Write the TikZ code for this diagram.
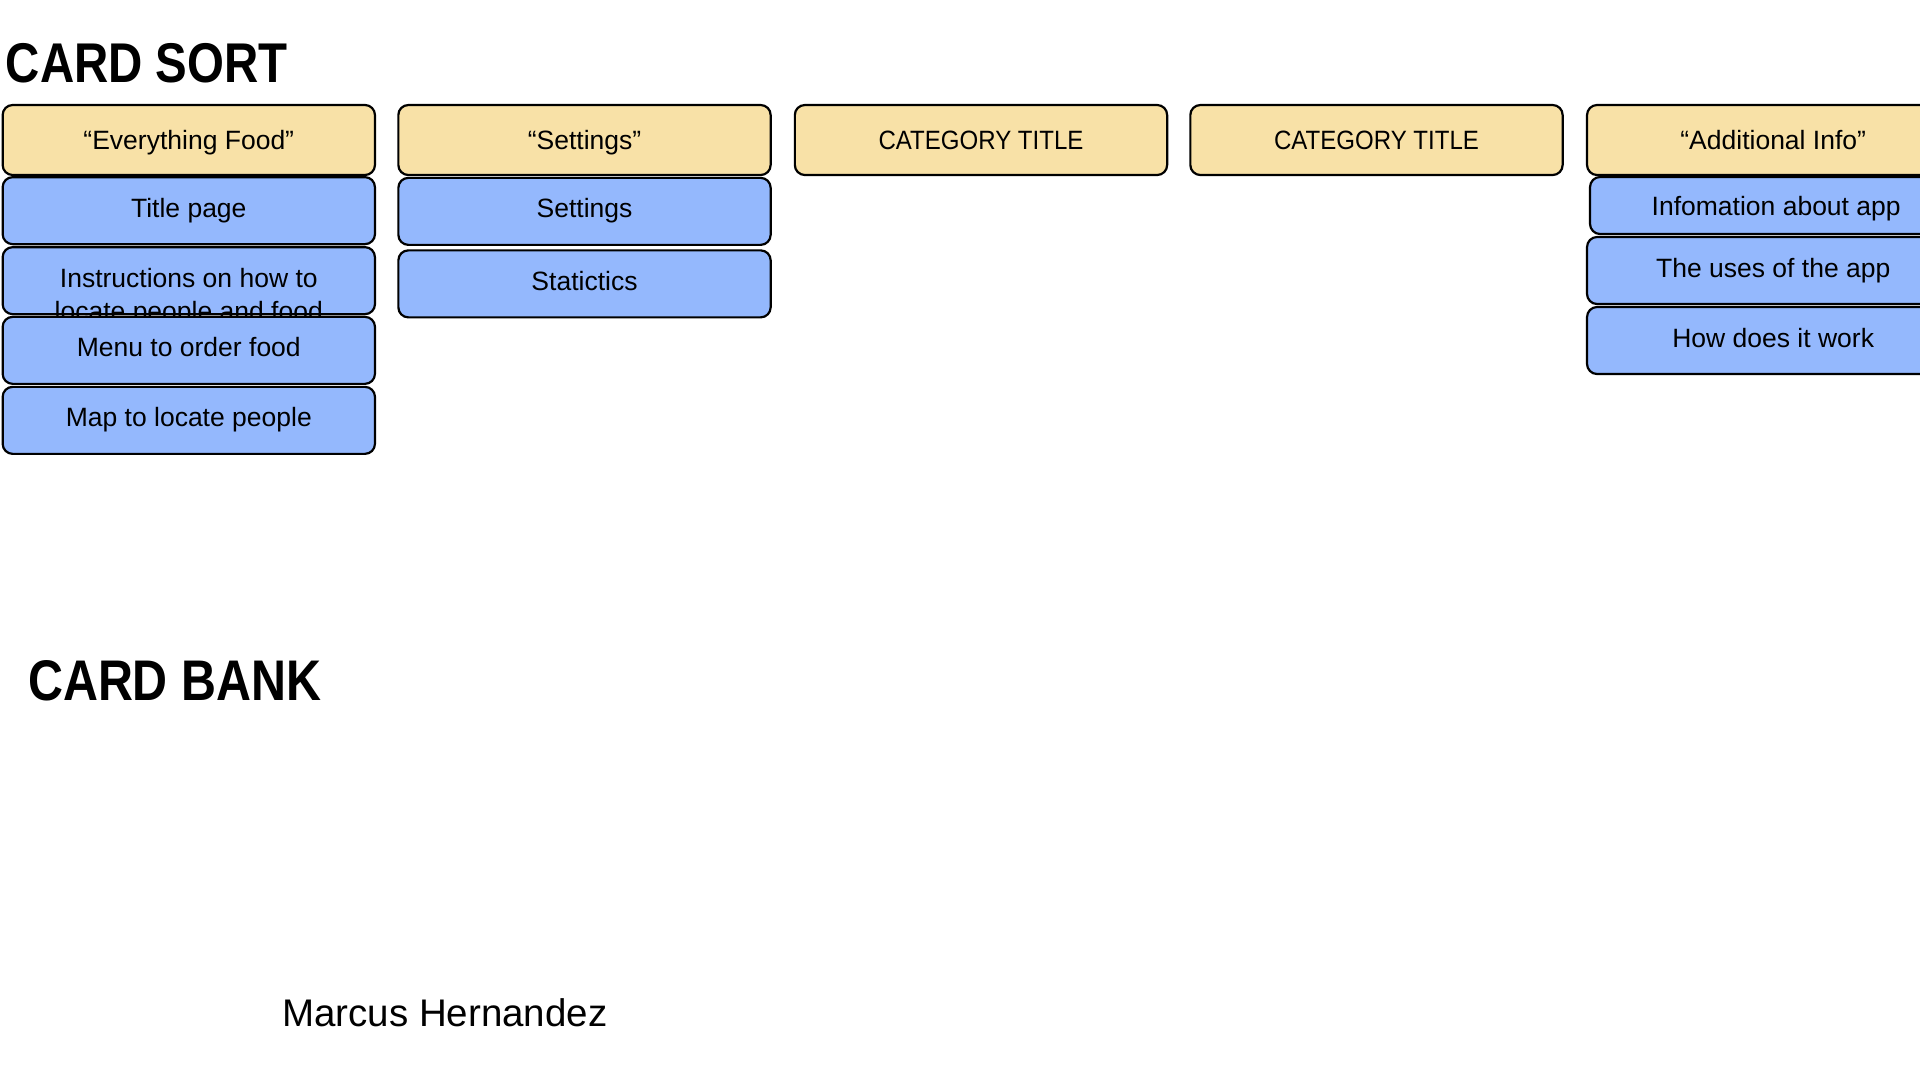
\documentclass[tikz,border=0pt]{standalone}
\usepackage{fontspec}
\usepackage{graphicx}
\setmainfont{Liberation Sans}
\definecolor{hdrfill}{HTML}{F8E1A7}
\definecolor{itemfill}{HTML}{94B8FD}
\newcommand\cardfont{\fontsize{26.5pt}{32.7pt}\selectfont}
\tikzset{
  card/.style={draw=black, line width=2.2pt, rounded corners=10pt,
    minimum width=372.3pt, inner sep=0pt, font=\cardfont, text=black},
  hdr/.style={card, fill=hdrfill, minimum height=70pt, text height=22pt, text depth=3.4pt},
  item/.style={card, fill=itemfill, minimum height=67pt, text height=19.5pt, text depth=6.3pt},
  itemshort/.style={card, fill=itemfill, minimum height=57pt, text height=22pt, text depth=3pt},
  bigtitle/.style={anchor=base west, inner sep=0pt, font=\bfseries},
  plaintext/.style={anchor=base west, inner sep=0pt}
}
\begin{document}
\begin{tikzpicture}[x=1pt,y=-1pt]
\clip (0,0) rectangle (1920,1080);
\fill[white] (0,0) rectangle (1920,1080);

% titles
\node[bigtitle, font=\bfseries\fontsize{56pt}{60pt}\selectfont] (sorttitle) at (5.6,82) {\scalebox{0.847}[1]{CARD SORT}};
\node[bigtitle, font=\bfseries\fontsize{57.3pt}{60pt}\selectfont] (banktitle) at (27.9,700) {\scalebox{0.845}[1]{CARD BANK}};
\node[plaintext, font=\fontsize{38.5pt}{42pt}\selectfont] (author) at (282,1026.7) {Marcus Hernandez};

% column 1
\node[hdr] (h1) at (188.8,140) {“Everything Food”};
\node[item] (c1a) at (188.8,210.65) {Title page};
\node[item] (c1b) at (188.8,280.65) {};
\node[anchor=base, align=center, inner sep=0pt, font=\cardfont] (c1btext) at (188.8,320) {Instructions on how to\\locate people and food};
\node[item] (c1c) at (188.8,350.35) {Menu to order food};
\node[item] (c1d) at (188.8,420.35) {Map to locate people};

% column 2
\node[hdr] (h2) at (584.5,140) {“Settings”};
\node[item] (c2a) at (584.5,211.35) {Settings};
\node[item] (c2b) at (584.5,283.85) {Statictics};

% column 3 and 4
\node[hdr] (h3) at (981,140) {\scalebox{0.907}[1]{CATEGORY TITLE}};
\node[hdr] (h4) at (1376.5,140) {\scalebox{0.907}[1]{CATEGORY TITLE}};

% column 5
\node[hdr] (h5) at (1773.2,140) {“Additional Info”};
\node[itemshort] (c5a) at (1776.2,205.5) {Infomation about app};
\node[item] (c5b) at (1773.2,270.5) {The uses of the app};
\node[item] (c5c) at (1773.2,340.5) {How does it work};
\end{tikzpicture}
\end{document}
